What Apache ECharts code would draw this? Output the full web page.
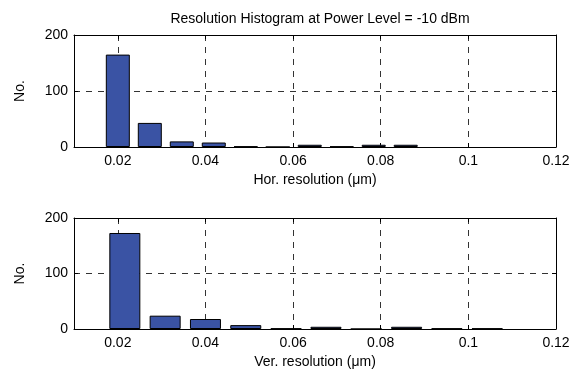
<!DOCTYPE html>
<html>
<head>
<meta charset="utf-8">
<script src="https://cdn.jsdelivr.net/npm/echarts@6/dist/echarts.min.js"></script>
<style>
html,body{margin:0;padding:0;background:#fff;}
#c{width:582px;height:372px;}
</style>
</head>
<body>
<div id="c"></div>
<script>
const titleText = 'Resolution Histogram at Power Level = -10 dBm';
const topCenters = [0.0200, 0.0273, 0.0346, 0.0419, 0.0492, 0.0565, 0.0638, 0.0711, 0.0784, 0.0857];
const topCounts  = [165, 43, 10, 8, 1, 0, 4, 1, 4, 4];
const botCenters = [0.0216, 0.0308, 0.0400, 0.0492, 0.0584, 0.0675, 0.0767, 0.0859, 0.0951, 0.1043];
const botCounts  = [173, 24, 18, 7, 1, 4, 0, 4, 1, 1];
const xTicks = [0.02, 0.04, 0.06, 0.08, 0.1, 0.12];
const yTicks = [0, 100, 200];
const xNames = ['Hor. resolution (\u03BCm)', 'Ver. resolution (\u03BCm)'];
const yName = 'No.';

const FONT = 'Liberation Sans, Arial, Helvetica, sans-serif';
const gridLine = {show: true, lineStyle: {color: '#333', width: 1, type: [6, 6]}};

function xAxisMain(gi, name) {
  return {
    type: 'value', gridIndex: gi, min: 0.01, max: 0.12, position: 'bottom',
    name: name, nameLocation: 'middle', nameGap: 26,
    nameTextStyle: {color: '#000', fontSize: 14, fontFamily: FONT},
    axisLine: {show: true, onZero: false, lineStyle: {color: '#000', width: 1}},
    axisTick: {show: true, inside: true, length: 4, customValues: xTicks, lineStyle: {color: '#000'}},
    axisLabel: {customValues: xTicks, color: '#000', fontSize: 14, fontFamily: FONT, margin: 7,
      formatter: v => String(+v.toFixed(2))},
    splitLine: gridLine
  };
}
function xAxisMirror(gi) {
  return {
    type: 'value', gridIndex: gi, min: 0.01, max: 0.12, position: 'top',
    axisLine: {show: true, onZero: false, lineStyle: {color: '#000', width: 1}},
    axisTick: {show: true, inside: true, length: 4, customValues: xTicks, lineStyle: {color: '#000'}},
    axisLabel: {show: false}, splitLine: {show: false}
  };
}
function yAxisMain(gi) {
  return {
    type: 'value', gridIndex: gi, min: yTicks[0], max: yTicks[yTicks.length - 1], interval: yTicks[1] - yTicks[0],
    position: 'left',
    name: yName, nameLocation: 'middle', nameGap: 47, nameRotate: 90,
    nameTextStyle: {color: '#000', fontSize: 14, fontFamily: FONT},
    axisLine: {show: true, lineStyle: {color: '#000', width: 1}},
    axisTick: {show: true, inside: true, length: 4, lineStyle: {color: '#000'}},
    axisLabel: {color: '#000', fontSize: 14, fontFamily: FONT, margin: 6},
    splitLine: gridLine
  };
}
function yAxisMirror(gi) {
  return {
    type: 'value', gridIndex: gi, min: yTicks[0], max: yTicks[yTicks.length - 1], interval: yTicks[1] - yTicks[0],
    position: 'right',
    axisLine: {show: true, lineStyle: {color: '#000', width: 1}},
    axisTick: {show: true, inside: true, length: 4, lineStyle: {color: '#000'}},
    axisLabel: {show: false}, splitLine: {show: false}
  };
}

const barStyle = {color: '#3A53A4', borderColor: '#000', borderWidth: 1};

const chart = echarts.init(document.getElementById('c'), null, {renderer: 'canvas'});
chart.setOption({
  backgroundColor: '#fff',
  animation: false,
  title: {
    text: titleText, left: 315, top: 7, textAlign: 'center',
    textStyle: {color: '#000', fontSize: 14, fontWeight: 'normal', fontFamily: FONT}
  },
  grid: [
    {left: 74, top: 35, width: 482, height: 112},
    {left: 74, top: 218, width: 482, height: 111}
  ],
  xAxis: [xAxisMain(0, xNames[0]), xAxisMain(1, xNames[1]), xAxisMirror(0), xAxisMirror(1)],
  yAxis: [yAxisMain(0), yAxisMain(1), yAxisMirror(0), yAxisMirror(1)],
  series: [
    {type: 'bar', xAxisIndex: 0, yAxisIndex: 0, barWidth: 24, itemStyle: barStyle,
     data: topCenters.map((x, i) => [x, topCounts[i]])},
    {type: 'bar', xAxisIndex: 1, yAxisIndex: 1, barWidth: 31, itemStyle: barStyle,
     data: botCenters.map((x, i) => [x, botCounts[i]])}
  ]
});
</script>
</body>
</html>
